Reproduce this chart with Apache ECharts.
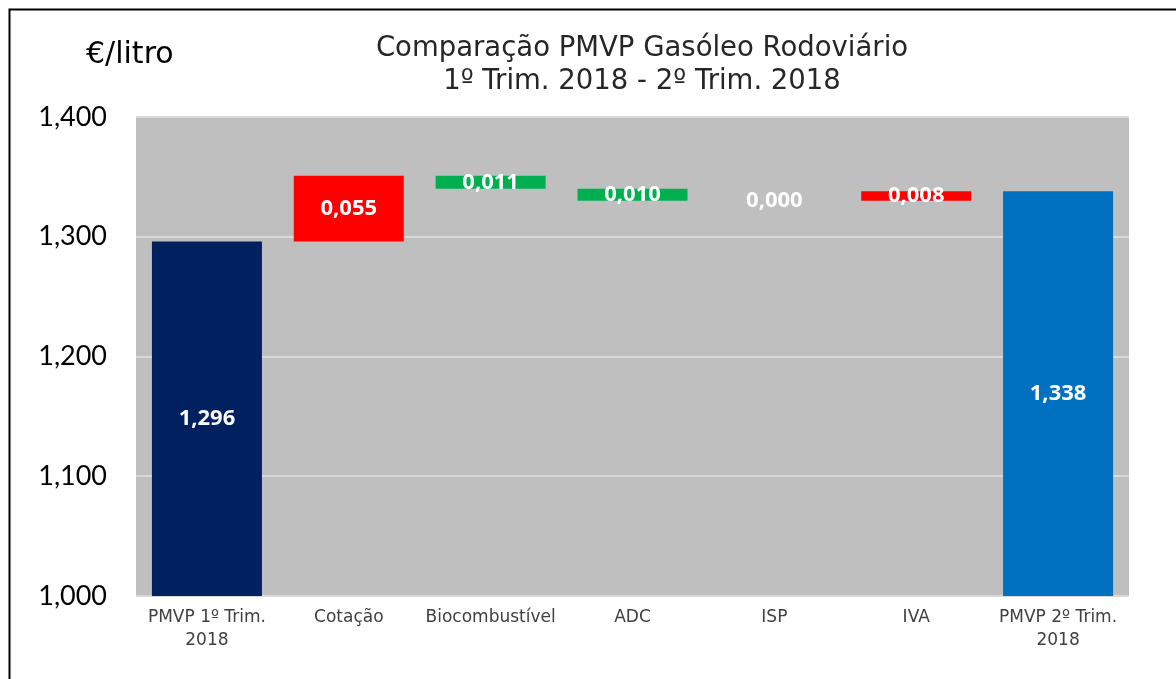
<!DOCTYPE html>
<html>
<head>
<meta charset="utf-8">
<script src="https://cdn.jsdelivr.net/npm/echarts@6/dist/echarts.min.js"></script>
<style>
  html, body { margin: 0; padding: 0; background: #fff; }
  #chart { width: 1176px; height: 679px; }
</style>
</head>
<body>
<div id="chart"></div>
<script>
// dados
var categories = ['PMVP 1º Trim.\n2018', 'Cotação', 'Biocombustível', 'ADC', 'ISP', 'IVA', 'PMVP 2º Trim.\n2018'];
var deltas = [1.296, 0.055, -0.011, -0.010, 0.000, 0.008, 1.338];
var yTicks = [1.0, 1.1, 1.2, 1.3, 1.4];

// base invisivel + barra visivel
var base = [], shown = [], total = 0;
for (var i = 0; i < deltas.length; i++) {
  if (i === 0 || i === deltas.length - 1) {
    base.push(0);
    shown.push(deltas[i]);
    total = deltas[i];
  } else {
    var next = total + deltas[i];
    base.push(Math.min(total, next));
    shown.push(Math.abs(deltas[i]));
    total = next;
  }
}

function barColor(i) {
  if (i === 0) return '#002060';
  if (i === deltas.length - 1) return '#0070c0';
  return deltas[i] >= 0 ? '#ff0000' : '#00b050';
}

var fmt = function (v) { return v.toFixed(3).replace('.', ','); };

var myChart = echarts.init(document.getElementById('chart'));
myChart.setOption({
  animation: false,
  backgroundColor: '#fff',
  title: {
    text: 'Comparação PMVP Gasóleo Rodoviário\n1º Trim. 2018 - 2º Trim. 2018',
    left: 637,
    top: 27,
    textAlign: 'center',
    textStyle: { fontFamily: 'DejaVu Sans', fontWeight: 'normal', fontSize: 27.5, color: '#262626', lineHeight: 33 }
  },
  graphic: [
    { type: 'rect', shape: { x: 9.5, y: 9.5, width: 1200, height: 700 }, style: { fill: 'none', stroke: '#000', lineWidth: 2 } },
    { type: 'text', left: 86, top: 40, style: { text: '€/litro', fontFamily: 'DejaVu Sans', fontSize: 30, fill: '#000' } }
  ],
  grid: {
    left: 136, right: 47, top: 117, bottom: 83,
    show: true, backgroundColor: '#bfbfbf', borderWidth: 0
  },
  xAxis: {
    type: 'category',
    data: categories,
    axisLine: { show: false },
    axisTick: { show: false },
    axisLabel: { color: '#404040', fontFamily: 'DejaVu Sans', fontSize: 17, lineHeight: 23, margin: 10, interval: 0 }
  },
  yAxis: {
    type: 'value',
    min: yTicks[0],
    max: yTicks[yTicks.length - 1],
    interval: 0.1,
    axisLine: { show: false },
    axisTick: { show: false },
    axisLabel: { color: '#000', fontFamily: 'Lato', fontSize: 27, margin: 29, formatter: fmt },
    splitLine: { lineStyle: { color: '#d9d9d9', width: 2 } }
  },
  series: [
    {
      type: 'bar',
      stack: 'w',
      barWidth: 110,
      data: base,
      itemStyle: { color: 'transparent' },
      silent: true
    },
    {
      type: 'bar',
      stack: 'w',
      barWidth: 110,
      data: shown.map(function (v, i) {
        return { value: v, itemStyle: { color: barColor(i) } };
      }),
      label: {
        show: true,
        position: 'inside',
        color: '#fff',
        fontFamily: 'Open Sans',
        fontWeight: 'bold',
        fontSize: 22,
        formatter: function (p) { return fmt(p.value); }
      }
    }
  ]
});
</script>
</body>
</html>
